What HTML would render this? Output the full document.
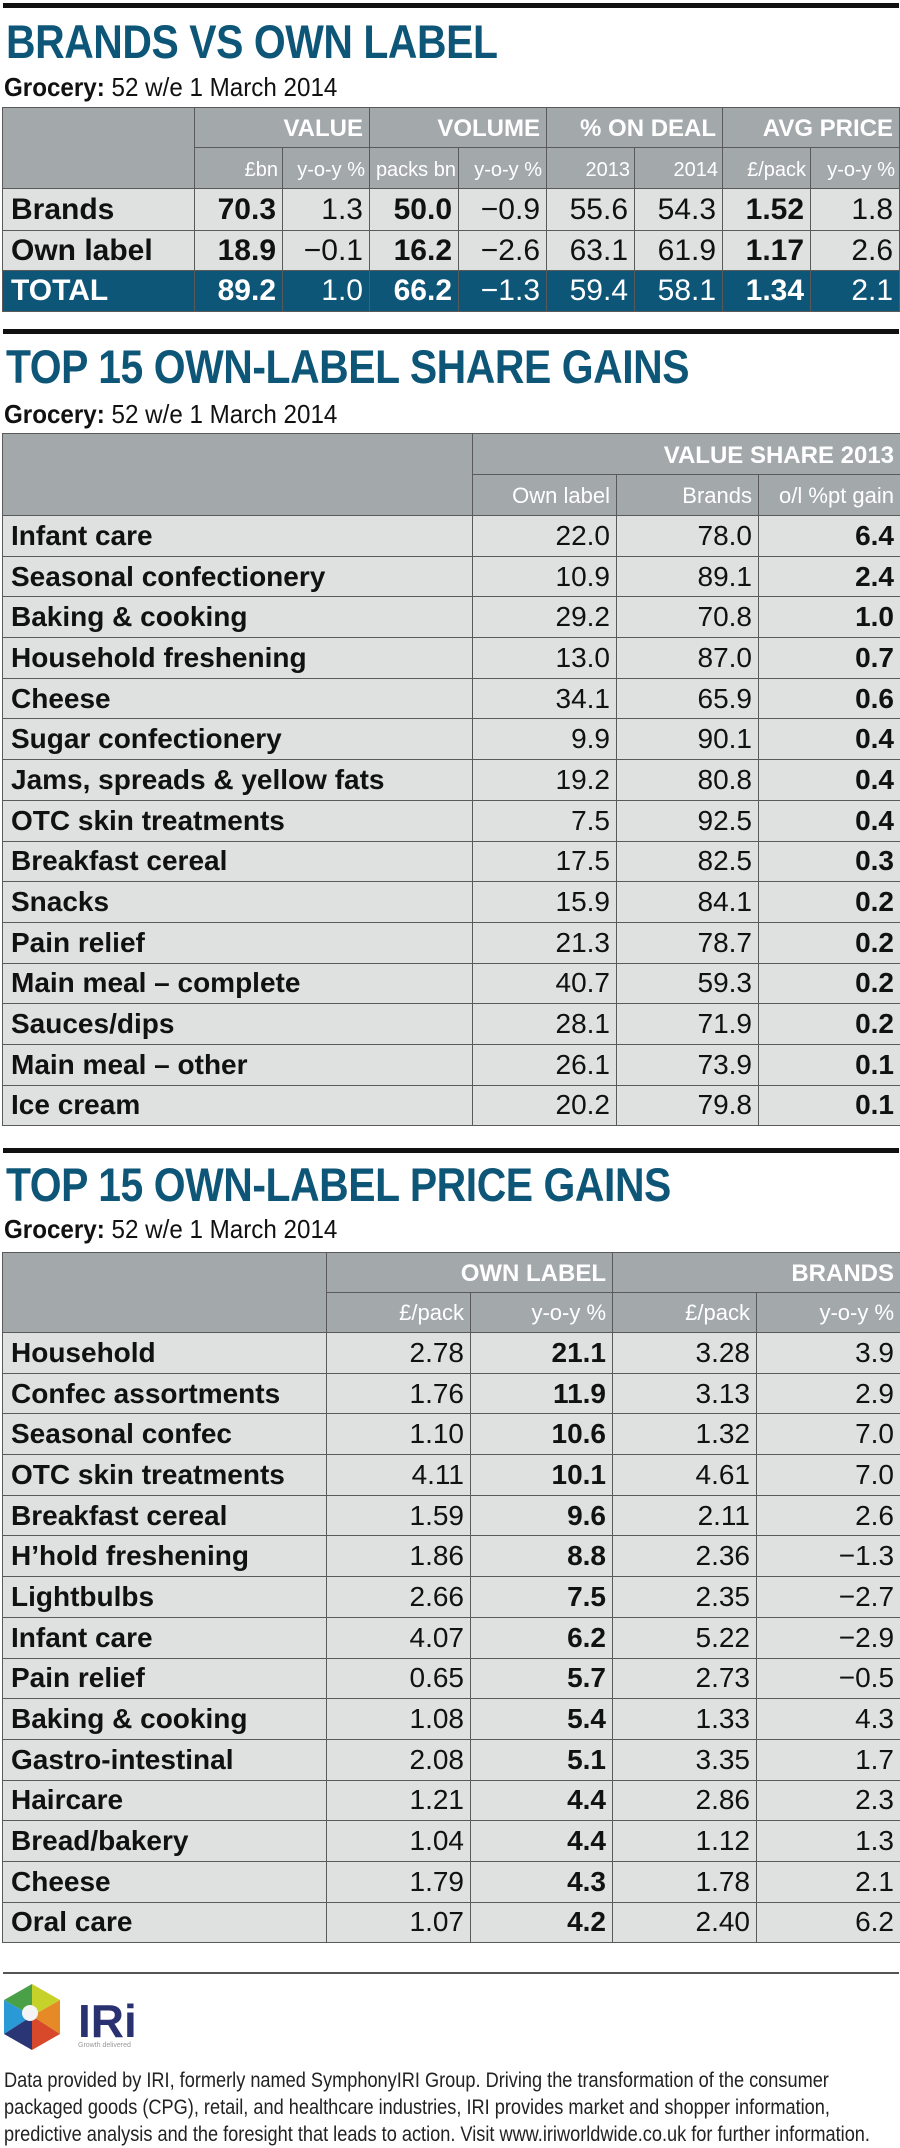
<!DOCTYPE html>
<html><head><meta charset="utf-8">
<style>
*{margin:0;padding:0;box-sizing:border-box}
body{width:900px;height:2143px;background:#fff;position:relative;overflow:hidden;font-family:"Liberation Sans",sans-serif;color:#111}
.rule{position:absolute;left:3px;width:896px;height:5px;background:#111}
.title{position:absolute;left:6px;font-weight:bold;font-size:47px;color:#0e5677;line-height:1;letter-spacing:-0.5px;white-space:nowrap;transform:scaleX(0.87);transform-origin:0 0}
.sub{position:absolute;left:4px;font-size:26px;line-height:1;white-space:nowrap;transform:scaleX(0.93);transform-origin:0 0}
.sub b{font-weight:bold}
table{position:absolute;left:2px;border-collapse:collapse;table-layout:fixed}
td{border:1.5px solid #5a5a5a;white-space:nowrap;overflow:hidden;text-align:right;padding-right:6px;background:#dfe0e0;font-size:28px;line-height:1}
td.h{background:#a3a8ab;color:#fff;font-weight:bold;font-size:24px;vertical-align:bottom;padding-bottom:6px;border-color:#5a5a5a}
td.h2{background:#a3a8ab;color:#fff;font-size:22px;vertical-align:bottom;padding-bottom:8px}
td.hl{background:#a3a8ab}
td.l{text-align:left;padding-left:8px;font-weight:bold;font-size:28px}
td b{font-weight:bold}
tr.tot td{background:#0e5677;color:#fff}
.t1 td{font-size:30px}
.t1 td.h{font-size:24px}
.t1 td.h2{font-size:20px;padding-right:4px}
.foot{position:absolute;left:4px;top:2067px;font-size:21px;line-height:27px;color:#222;white-space:nowrap;transform:scaleX(0.865);transform-origin:0 0}
</style></head><body>

<div class="rule" style="top:3px"></div>
<div class="title" style="top:18px">BRANDS VS OWN LABEL</div>
<div class="sub" style="top:74px"><b>Grocery:</b> 52 w/e 1 March 2014</div>

<table class="t1" style="top:107px;width:897px">
<colgroup><col style="width:192px"><col style="width:88px"><col style="width:87px"><col style="width:89px"><col style="width:88px"><col style="width:88px"><col style="width:88px"><col style="width:88px"><col style="width:89px"></colgroup>
<tr style="height:40px"><td class="hl" rowspan="2"></td><td class="h" colspan="2">VALUE</td><td class="h" colspan="2">VOLUME</td><td class="h" colspan="2">% ON DEAL</td><td class="h" colspan="2">AVG PRICE</td></tr>
<tr style="height:41px"><td class="h2">£bn</td><td class="h2">y-o-y %</td><td class="h2" style="padding-right:2px">packs bn</td><td class="h2">y-o-y %</td><td class="h2">2013</td><td class="h2">2014</td><td class="h2">£/pack</td><td class="h2">y-o-y %</td></tr>
<tr style="height:42px"><td class="l">Brands</td><td><b>70.3</b></td><td>1.3</td><td><b>50.0</b></td><td>−0.9</td><td>55.6</td><td>54.3</td><td><b>1.52</b></td><td>1.8</td></tr>
<tr style="height:40px"><td class="l">Own label</td><td><b>18.9</b></td><td>−0.1</td><td><b>16.2</b></td><td>−2.6</td><td>63.1</td><td>61.9</td><td><b>1.17</b></td><td>2.6</td></tr>
<tr class="tot" style="height:41px"><td class="l">TOTAL</td><td><b>89.2</b></td><td>1.0</td><td><b>66.2</b></td><td>−1.3</td><td>59.4</td><td>58.1</td><td><b>1.34</b></td><td>2.1</td></tr>
</table>

<div class="rule" style="top:329px"></div>
<div class="title" style="top:343px">TOP 15 OWN-LABEL SHARE GAINS</div>
<div class="sub" style="top:401px"><b>Grocery:</b> 52 w/e 1 March 2014</div>

<table style="top:433px;width:898px">
<colgroup><col style="width:470px"><col style="width:144px"><col style="width:142px"><col style="width:142px"></colgroup>
<tr style="height:41px"><td class="hl" rowspan="2"></td><td class="h" colspan="3">VALUE SHARE 2013</td></tr>
<tr style="height:41px"><td class="h2">Own label</td><td class="h2">Brands</td><td class="h2">o/l %pt gain</td></tr>
<tr style="height:40.7px"><td class="l">Infant care</td><td>22.0</td><td>78.0</td><td><b>6.4</b></td></tr>
<tr style="height:40.7px"><td class="l">Seasonal confectionery</td><td>10.9</td><td>89.1</td><td><b>2.4</b></td></tr>
<tr style="height:40.7px"><td class="l">Baking &amp; cooking</td><td>29.2</td><td>70.8</td><td><b>1.0</b></td></tr>
<tr style="height:40.7px"><td class="l">Household freshening</td><td>13.0</td><td>87.0</td><td><b>0.7</b></td></tr>
<tr style="height:40.7px"><td class="l">Cheese</td><td>34.1</td><td>65.9</td><td><b>0.6</b></td></tr>
<tr style="height:40.7px"><td class="l">Sugar confectionery</td><td>9.9</td><td>90.1</td><td><b>0.4</b></td></tr>
<tr style="height:40.7px"><td class="l">Jams, spreads &amp; yellow fats</td><td>19.2</td><td>80.8</td><td><b>0.4</b></td></tr>
<tr style="height:40.7px"><td class="l">OTC skin treatments</td><td>7.5</td><td>92.5</td><td><b>0.4</b></td></tr>
<tr style="height:40.7px"><td class="l">Breakfast cereal</td><td>17.5</td><td>82.5</td><td><b>0.3</b></td></tr>
<tr style="height:40.7px"><td class="l">Snacks</td><td>15.9</td><td>84.1</td><td><b>0.2</b></td></tr>
<tr style="height:40.7px"><td class="l">Pain relief</td><td>21.3</td><td>78.7</td><td><b>0.2</b></td></tr>
<tr style="height:40.7px"><td class="l">Main meal – complete</td><td>40.7</td><td>59.3</td><td><b>0.2</b></td></tr>
<tr style="height:40.7px"><td class="l">Sauces/dips</td><td>28.1</td><td>71.9</td><td><b>0.2</b></td></tr>
<tr style="height:40.7px"><td class="l">Main meal – other</td><td>26.1</td><td>73.9</td><td><b>0.1</b></td></tr>
<tr style="height:40.7px"><td class="l">Ice cream</td><td>20.2</td><td>79.8</td><td><b>0.1</b></td></tr>
</table>

<div class="rule" style="top:1148px"></div>
<div class="title" style="top:1161px">TOP 15 OWN-LABEL PRICE GAINS</div>
<div class="sub" style="top:1216px"><b>Grocery:</b> 52 w/e 1 March 2014</div>

<table style="top:1252px;width:898px">
<colgroup><col style="width:324px"><col style="width:144px"><col style="width:142px"><col style="width:144px"><col style="width:144px"></colgroup>
<tr style="height:40px"><td class="hl" rowspan="2"></td><td class="h" colspan="2">OWN LABEL</td><td class="h" colspan="2">BRANDS</td></tr>
<tr style="height:40px"><td class="h2">£/pack</td><td class="h2">y-o-y %</td><td class="h2">£/pack</td><td class="h2">y-o-y %</td></tr>
<tr style="height:40.7px"><td class="l">Household</td><td>2.78</td><td><b>21.1</b></td><td>3.28</td><td>3.9</td></tr>
<tr style="height:40.7px"><td class="l">Confec assortments</td><td>1.76</td><td><b>11.9</b></td><td>3.13</td><td>2.9</td></tr>
<tr style="height:40.7px"><td class="l">Seasonal confec</td><td>1.10</td><td><b>10.6</b></td><td>1.32</td><td>7.0</td></tr>
<tr style="height:40.7px"><td class="l">OTC skin treatments</td><td>4.11</td><td><b>10.1</b></td><td>4.61</td><td>7.0</td></tr>
<tr style="height:40.7px"><td class="l">Breakfast cereal</td><td>1.59</td><td><b>9.6</b></td><td>2.11</td><td>2.6</td></tr>
<tr style="height:40.7px"><td class="l">H’hold freshening</td><td>1.86</td><td><b>8.8</b></td><td>2.36</td><td>−1.3</td></tr>
<tr style="height:40.7px"><td class="l">Lightbulbs</td><td>2.66</td><td><b>7.5</b></td><td>2.35</td><td>−2.7</td></tr>
<tr style="height:40.7px"><td class="l">Infant care</td><td>4.07</td><td><b>6.2</b></td><td>5.22</td><td>−2.9</td></tr>
<tr style="height:40.7px"><td class="l">Pain relief</td><td>0.65</td><td><b>5.7</b></td><td>2.73</td><td>−0.5</td></tr>
<tr style="height:40.7px"><td class="l">Baking &amp; cooking</td><td>1.08</td><td><b>5.4</b></td><td>1.33</td><td>4.3</td></tr>
<tr style="height:40.7px"><td class="l">Gastro-intestinal</td><td>2.08</td><td><b>5.1</b></td><td>3.35</td><td>1.7</td></tr>
<tr style="height:40.7px"><td class="l">Haircare</td><td>1.21</td><td><b>4.4</b></td><td>2.86</td><td>2.3</td></tr>
<tr style="height:40.7px"><td class="l">Bread/bakery</td><td>1.04</td><td><b>4.4</b></td><td>1.12</td><td>1.3</td></tr>
<tr style="height:40.7px"><td class="l">Cheese</td><td>1.79</td><td><b>4.3</b></td><td>1.78</td><td>2.1</td></tr>
<tr style="height:40.7px"><td class="l">Oral care</td><td>1.07</td><td><b>4.2</b></td><td>2.40</td><td>6.2</td></tr>
</table>

<div style="position:absolute;left:3px;top:1972px;width:896px;height:2px;background:#555"></div>
<svg style="position:absolute;left:0;top:1982px" width="180" height="72" viewBox="0 0 180 72">
<polygon points="32,2 60,18 32,34" fill="#c6d22a"/>
<polygon points="32,2 4,18 32,34" fill="#4aa046"/>
<polygon points="4,18 4,52 32,34" fill="#2a9ad6"/>
<polygon points="60,18 60,52 32,34" fill="#e58a26"/>
<polygon points="4,52 32,68 32,34" fill="#2a3575"/>
<polygon points="60,52 32,68 32,34" fill="#d8482a"/>
<circle cx="30" cy="31" r="8" fill="#f4f4f4"/>
<text x="78" y="55" font-family="Liberation Sans" font-weight="bold" font-size="46" fill="#2a3170">IRi</text>
<text x="78" y="65" font-family="Liberation Sans" font-size="7" fill="#999">Growth delivered</text>
</svg>
<div class="foot">Data provided by IRI, formerly named SymphonyIRI Group. Driving the transformation of the consumer<br>packaged goods (CPG), retail, and healthcare industries, IRI provides market and shopper information,<br>predictive analysis and the foresight that leads to action. Visit www.iriworldwide.co.uk for further information.</div>
</body></html>
